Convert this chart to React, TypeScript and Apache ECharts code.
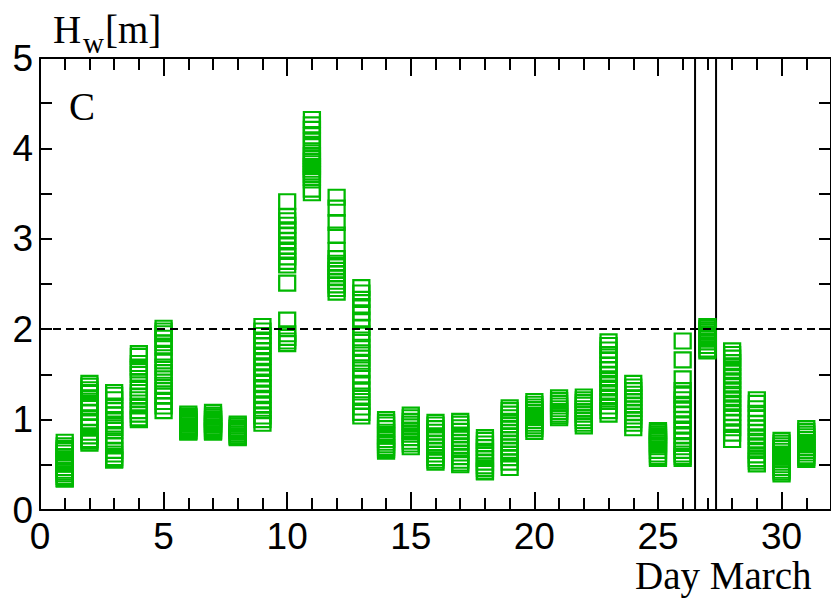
import React, { useEffect, useRef } from "react";
import * as echarts from "echarts";

// Wave height H_w [m] per day of March (estimated values for each square)
const days = [1, 2, 3, 4, 5, 6, 7, 8, 9, 10, 11, 12, 13, 14, 15, 16, 17, 18, 19, 20, 21, 22, 23, 24, 25, 26, 27, 28, 29, 30, 31];
const hw01 = [0.75, 0.71, 0.68, 0.63, 0.56, 0.51, 0.47, 0.44, 0.40, 0.37, 0.35, 0.34, 0.53, 0.59, 0.66, 0.42];
const hw02 = [1.40, 1.37, 1.33, 1.29, 1.24, 1.18, 1.13, 1.08, 1.02, 0.97, 0.92, 0.86, 0.82, 0.78, 0.76, 0.74, 1.15, 1.30];
const hw03 = [1.30, 1.27, 1.22, 1.15, 1.05, 1.00, 0.95, 0.88, 0.82, 0.76, 0.71, 0.66, 0.62, 0.58, 0.56, 0.55, 1.10, 0.91];
const hw04 = [1.73, 1.70, 1.62, 1.55, 1.50, 1.42, 1.35, 1.30, 1.22, 1.15, 1.10, 1.06, 1.02, 1.00, 1.58, 1.26];
const hw05 = [2.01, 1.98, 1.95, 1.90, 1.85, 1.80, 1.72, 1.65, 1.58, 1.52, 1.45, 1.38, 1.32, 1.26, 1.20, 1.15, 1.10];
const hw06 = [1.06, 1.04, 1.02, 1.00, 0.98, 0.96, 0.95, 0.93, 0.91, 0.90, 0.88, 0.87, 0.86, 1.03, 0.97, 0.92];
const hw07 = [1.08, 1.05, 1.03, 1.00, 0.98, 0.96, 0.94, 0.92, 0.90, 0.88, 0.87, 0.86, 1.01, 0.95];
const hw08 = [0.95, 0.93, 0.90, 0.88, 0.86, 0.84, 0.82, 0.81, 0.80, 0.91];
const hw09 = [2.03, 1.98, 1.93, 1.88, 1.82, 1.76, 1.70, 1.64, 1.58, 1.52, 1.46, 1.40, 1.34, 1.28, 1.22, 1.16, 1.10, 1.04, 1.00, 0.96];
const hw10 = [3.41, 3.25, 3.20, 3.15, 3.10, 3.04, 2.98, 2.92, 2.86, 2.80, 2.75, 2.71, 2.51, 2.10, 1.95, 1.91, 1.87, 1.84];
const hw11 = [4.32, 4.26, 4.21, 4.14, 4.08, 4.02, 3.95, 3.92, 3.89, 3.86, 3.83, 3.80, 3.77, 3.74, 3.71, 3.68, 3.65, 3.55, 3.51];
const hw12 = [3.46, 3.34, 3.18, 3.04, 2.87, 2.78, 2.73, 2.69, 2.65, 2.61, 2.57, 2.53, 2.49, 2.45, 2.41];
const hw13 = [2.46, 2.40, 2.33, 2.25, 2.18, 2.10, 2.02, 1.95, 1.88, 1.80, 1.74, 1.68, 1.62, 1.55, 1.48, 1.40, 1.33, 1.26, 1.20, 1.14, 1.08, 1.04];
const hw14 = [1.00, 0.97, 0.94, 0.90, 0.86, 0.82, 0.78, 0.75, 0.72, 0.69, 0.67, 0.65];
const hw15 = [1.05, 1.02, 0.98, 0.95, 0.92, 0.88, 0.84, 0.80, 0.76, 0.73, 0.70];
const hw16 = [0.97, 0.94, 0.90, 0.86, 0.82, 0.78, 0.74, 0.70, 0.66, 0.62, 0.58, 0.55, 0.53];
const hw17 = [0.98, 0.95, 0.91, 0.87, 0.83, 0.79, 0.75, 0.71, 0.67, 0.63, 0.59, 0.55, 0.52, 0.50];
const hw18 = [0.80, 0.77, 0.73, 0.69, 0.65, 0.61, 0.57, 0.53, 0.49, 0.46, 0.43, 0.42];
const hw19 = [1.13, 1.10, 1.06, 1.02, 0.98, 0.94, 0.90, 0.86, 0.82, 0.78, 0.74, 0.70, 0.66, 0.62, 0.58, 0.53, 0.47];
const hw20 = [1.20, 1.17, 1.14, 1.11, 1.08, 1.05, 1.02, 0.99, 0.96, 0.93, 0.90, 0.87];
const hw21 = [1.24, 1.21, 1.18, 1.15, 1.12, 1.09, 1.06, 1.04, 1.02];
const hw22 = [1.25, 1.22, 1.19, 1.16, 1.12, 1.09, 1.06, 1.02, 0.99, 0.96, 0.93];
const hw23 = [1.86, 1.82, 1.77, 1.72, 1.66, 1.60, 1.55, 1.50, 1.45, 1.40, 1.35, 1.30, 1.25, 1.20, 1.15, 1.10, 1.06];
const hw24 = [1.40, 1.36, 1.32, 1.28, 1.24, 1.20, 1.16, 1.12, 1.08, 1.04, 1.00, 0.96, 0.91];
const hw25 = [0.88, 0.86, 0.84, 0.82, 0.80, 0.78, 0.76, 0.74, 0.72, 0.70, 0.66, 0.62, 0.59, 0.57];
const hw26 = [1.87, 1.66, 1.45, 1.32, 1.27, 1.22, 1.17, 1.12, 1.06, 1.00, 0.94, 0.88, 0.82, 0.76, 0.70, 0.66, 0.62, 0.59, 0.57];
const hw27 = [2.03, 2.01, 1.99, 1.97, 1.95, 1.93, 1.91, 1.89, 1.86, 1.82, 1.78, 1.76];
const hw28 = [1.76, 1.72, 1.68, 1.63, 1.58, 1.53, 1.48, 1.43, 1.38, 1.33, 1.28, 1.23, 1.18, 1.13, 1.08, 1.03, 0.97, 0.91, 0.85, 0.78];
const hw29 = [1.22, 1.18, 1.12, 1.07, 1.02, 0.96, 0.91, 0.86, 0.81, 0.76, 0.71, 0.66, 0.61, 0.57, 0.54, 0.51];
const hw30 = [0.77, 0.74, 0.71, 0.68, 0.65, 0.62, 0.59, 0.56, 0.53, 0.50, 0.47, 0.44, 0.42, 0.40];
const hw31 = [0.90, 0.87, 0.84, 0.81, 0.78, 0.75, 0.72, 0.69, 0.66, 0.63, 0.60, 0.58, 0.56];
const hwByDay = [hw01, hw02, hw03, hw04, hw05, hw06, hw07, hw08, hw09, hw10, hw11, hw12, hw13, hw14, hw15, hw16, hw17, hw18, hw19, hw20, hw21, hw22, hw23, hw24, hw25, hw26, hw27, hw28, hw29, hw30, hw31];

const thresholdHw = 2;
const highlightStart = 26.5;
const highlightEnd = 27.35;
const xMin = 0;
const xMax = 32;
const yMin = 0;
const yMax = 5;

const GREEN = "#00b800";
const SANS = "'Liberation Sans', Arial, sans-serif";
const SERIF = "'Liberation Serif', 'Times New Roman', serif";

export default function App() {
  const ref = useRef<HTMLDivElement>(null);
  useEffect(() => {
    if (!ref.current) return;
    const chart = echarts.init(ref.current, null, { renderer: "svg" });
    const points: number[][] = [];
    days.forEach((d, i) => {
      hwByDay[i].forEach((v) => points.push([d, v]));
    });
    const axisLine = { show: true, onZero: false, lineStyle: { color: "#000", width: 2 } };
    const xTick = { show: true, inside: true, length: 18, lineStyle: { color: "#000", width: 2 } };
    const xMinor = { show: true, splitNumber: 5, length: 12, lineStyle: { color: "#000", width: 2 } };
    const yTick = { show: true, inside: true, length: 12, lineStyle: { color: "#000", width: 2 } };
    const yMinor = { show: true, splitNumber: 2, length: 12, lineStyle: { color: "#000", width: 2 } };
    const option: any = {
      animation: false,
      backgroundColor: "#fff",
      grid: { left: 40, top: 58, width: 796, height: 452, containLabel: false },
      xAxis: [
        {
          type: "value", min: xMin, max: xMax, interval: 5, position: "bottom",
          axisLine, axisTick: xTick, minorTick: xMinor, splitLine: { show: false },
          axisLabel: { color: "#000", fontSize: 37, fontFamily: SANS, margin: 8, showMaxLabel: false },
        },
        {
          type: "value", min: xMin, max: xMax, interval: 5, position: "top",
          axisLine, axisTick: xTick, minorTick: xMinor, splitLine: { show: false },
          axisLabel: { show: false },
        },
      ],
      yAxis: [
        {
          type: "value", min: yMin, max: yMax, interval: 1, position: "left",
          axisLine, axisTick: yTick, minorTick: yMinor, splitLine: { show: false },
          axisLabel: { color: "#000", fontSize: 37, fontFamily: SANS, margin: 7 },
        },
        {
          type: "value", min: yMin, max: yMax, interval: 1, position: "right",
          axisLine, axisTick: yTick, minorTick: yMinor, splitLine: { show: false },
          axisLabel: { show: false },
        },
      ],
      series: [
        {
          type: "scatter",
          data: points,
          symbol: "rect",
          symbolSize: [16, 15],
          itemStyle: { color: "rgba(0,0,0,0)", borderColor: GREEN, borderWidth: 2.2, opacity: 1 },
          emphasis: { disabled: true },
          markLine: {
            silent: true, symbol: ["none", "none"], label: { show: false },
            lineStyle: { color: "#000", width: 2, type: [8, 5] },
            data: [[{ coord: [xMin, thresholdHw] }, { coord: [xMax, thresholdHw] }]],
          },
          markArea: {
            silent: true,
            itemStyle: { color: "rgba(0,0,0,0)", borderColor: "#000", borderWidth: 2 },
            data: [[{ coord: [highlightStart, yMin] }, { coord: [highlightEnd, yMax] }]],
          },
          z: 3,
        },
      ],
      graphic: [
        { type: "text", left: 53, top: 10, style: { text: "H", fontSize: 39, fontFamily: SERIF, fill: "#000" } },
        { type: "text", left: 83, top: 28, style: { text: "w", fontSize: 29, fontFamily: SERIF, fill: "#000" } },
        { type: "text", left: 105, top: 10, style: { text: "[m]", fontSize: 39, fontFamily: SERIF, fill: "#000" } },
        { type: "text", left: 69, top: 87, style: { text: "C", fontSize: 39, fontFamily: SERIF, fill: "#000" } },
        { type: "text", left: 635, top: 556, style: { text: "Day March", fontSize: 39, fontFamily: SERIF, fill: "#000" } },
      ],
    };
    chart.setOption(option);
    return () => chart.dispose();
  }, []);
  return (
    <div style={{ position: "absolute", left: 0, top: 0, width: 831, height: 599, overflow: "hidden" }}>
      <div ref={ref} style={{ width: 831, height: 599 }} />
    </div>
  );
}
